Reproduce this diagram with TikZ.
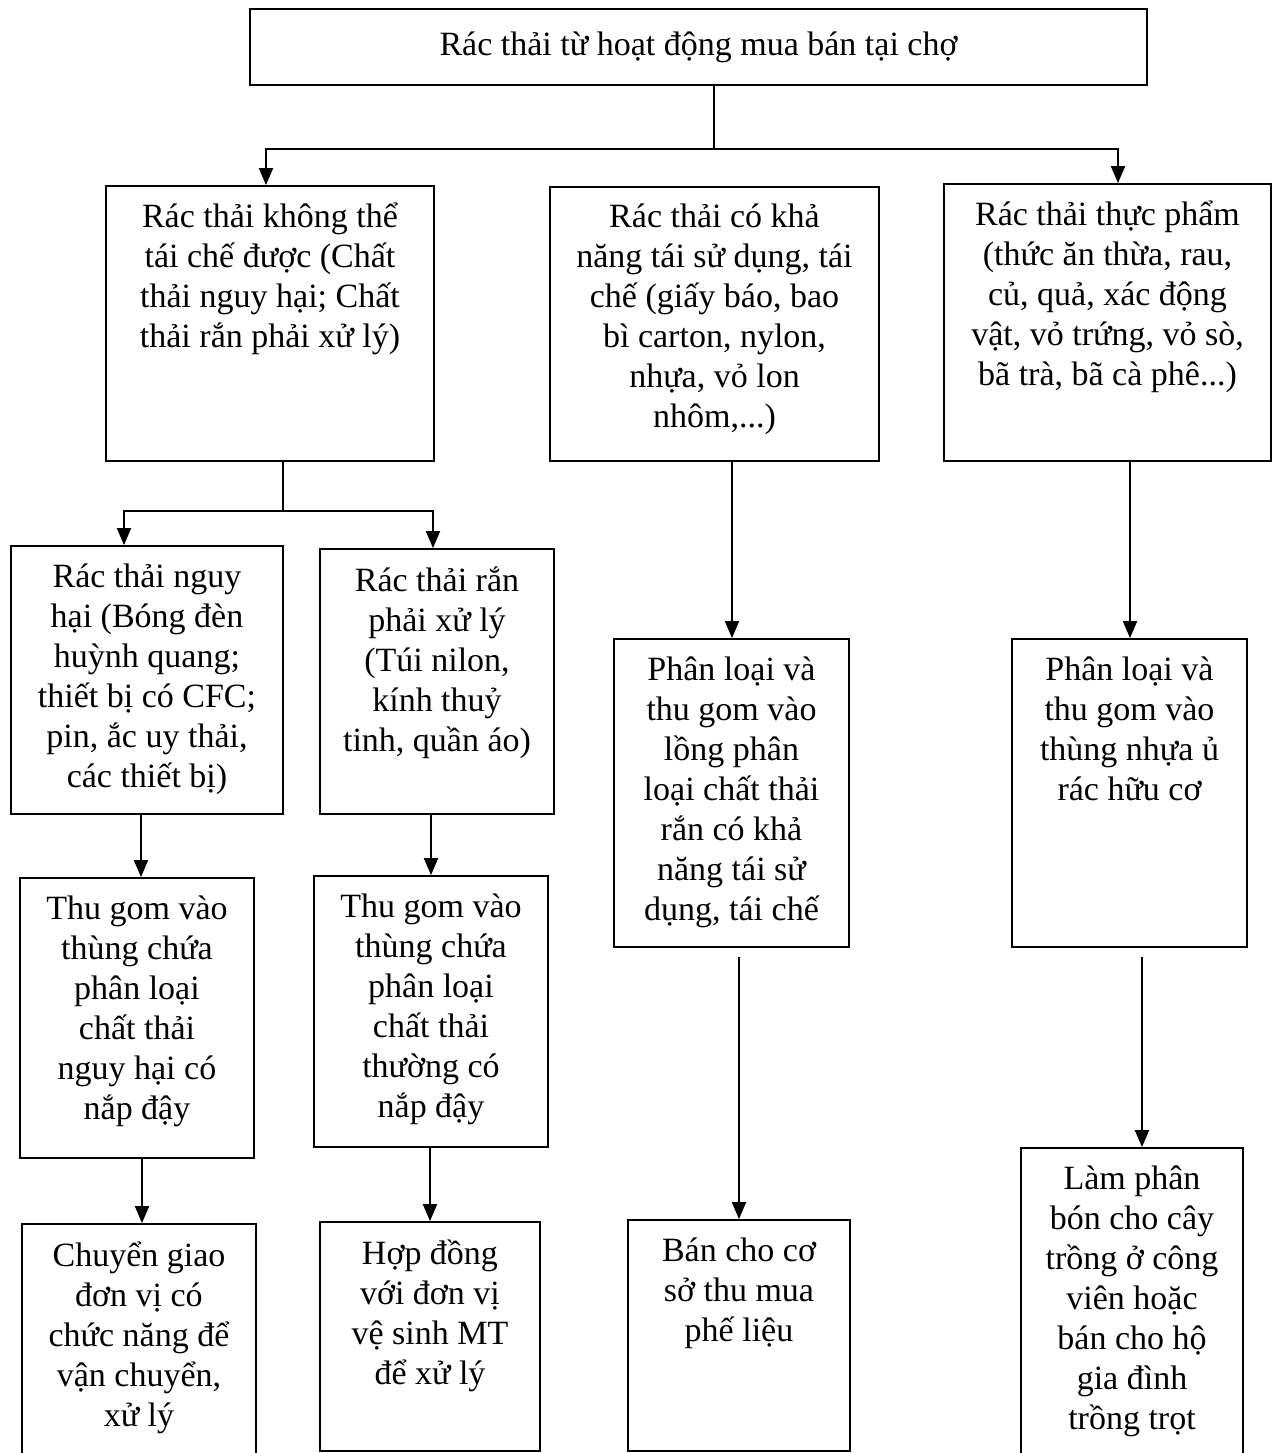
\documentclass[tikz,border=0pt]{standalone}
\usepackage{fontspec}
\setmainfont{Liberation Serif}
\usetikzlibrary{positioning,arrows.meta}
\tikzset{
  box/.style={draw, line width=1.8pt, inner sep=0pt},
  txt/.style={align=center, inner sep=0pt, execute at begin node={\rule{0pt}{33pt}}},
  conn/.style={line width=1.9pt},
}
\begin{document}
\begin{tikzpicture}[x=1pt, y=-1pt, >={Triangle[length=17pt,width=14pt]}, font=\fontsize{34}{40}\selectfont]
\useasboundingbox (0,0) rectangle (1273,1453);
% top
\node[box, minimum width=897pt, minimum height=76pt] (top) at (698.5,47) {Rác thải từ hoạt động mua bán tại chợ};
% first level
\node[box, minimum width=328pt, minimum height=275pt] (A) at (270,323.5) {};
\node[box, minimum width=329pt, minimum height=274pt] (B) at (714.5,324) {};
\node[box, minimum width=327pt, minimum height=277pt] (C) at (1107.5,322.5) {};
\node[txt, below=18pt of A.north] (At) {Rác thải không thể\\tái chế được (Chất\\thải nguy hại; Chất\\thải rắn phải xử lý)};
\node[txt, below=18pt of B.north] (Bt) {Rác thải có khả\\năng tái sử dụng, tái\\chế (giấy báo, bao\\bì carton, nylon,\\nhựa, vỏ lon\\nhôm,...)};
\node[txt, below=18pt of C.north] (Ct) {Rác thải thực phẩm\\(thức ăn thừa, rau,\\củ, quả, xác động\\vật, vỏ trứng, vỏ sò,\\bã trà, bã cà phê...)};
% left branch
\node[box, minimum width=272pt, minimum height=268pt] (A1) at (147,680) {};
\node[box, minimum width=234pt, minimum height=265pt] (A2) at (437,681.5) {};
\node[txt, below=19pt of A1.north] (A1t) {Rác thải nguy\\hại (Bóng đèn\\huỳnh quang;\\thiết bị có CFC;\\pin, ắc uy thải,\\các thiết bị)};
\node[txt, below=19pt of A2.north] (A2t) {Rác thải rắn\\phải xử lý\\(Túi nilon,\\kính thuỷ\\tinh, quần áo)};
\node[box, minimum width=234pt, minimum height=280pt] (A1b) at (137,1018) {};
\node[box, minimum width=234pt, minimum height=271pt] (A2b) at (431,1011.5) {};
\node[txt, below=19pt of A1b.north] (A1bt) {Thu gom vào\\thùng chứa\\phân loại\\chất thải\\nguy hại có\\nắp đậy};
\node[txt, below=19pt of A2b.north] (A2bt) {Thu gom vào\\thùng chứa\\phân loại\\chất thải\\thường có\\nắp đậy};
\node[box, minimum width=234pt, minimum height=246pt] (A1c) at (139,1347) {};
\node[box, minimum width=220pt, minimum height=229pt] (A2c) at (430,1336.5) {};
\node[txt, below=19pt of A1c.north] (A1ct) {Chuyển giao\\đơn vị có\\chức năng để\\vận chuyển,\\xử lý};
\node[txt, below=19pt of A2c.north] (A2ct) {Hợp đồng\\với đơn vị\\vệ sinh MT\\để xử lý};
% middle and right branches
\node[box, minimum width=235pt, minimum height=308pt] (B1) at (731.5,793) {};
\node[box, minimum width=235pt, minimum height=308pt] (C1) at (1129.5,793) {};
\node[txt, below=19pt of B1.north] (B1t) {Phân loại và\\thu gom vào\\lồng phân\\loại chất thải\\rắn có khả\\năng tái sử\\dụng, tái chế};
\node[txt, below=19pt of C1.north] (C1t) {Phân loại và\\thu gom vào\\thùng nhựa ủ\\rác hữu cơ};
\node[box, minimum width=222pt, minimum height=231pt] (B2) at (739,1335.5) {};
\node[box, minimum width=222pt, minimum height=322pt] (C2) at (1132,1309) {};
\node[txt, below=19pt of B2.north] (B2t) {Bán cho cơ\\sở thu mua\\phế liệu};
\node[txt, below=19pt of C2.north] (C2t) {Làm phân\\bón cho cây\\trồng ở công\\viên hoặc\\bán cho hộ\\gia đình\\trồng trọt};
% connectors
\coordinate (j1) at (714,149);
\coordinate (j2) at (283,511);
\draw[conn] (top.south -| j1) -- (j1);
\draw[conn,->] (j1) -| ([xshift=-4pt]A.north);
\draw[conn,->] (j1) -| ([xshift=10.5pt]C.north);
\draw[conn] (A.south -| j2) -- (j2);
\draw[conn,->] (j2) -| ([xshift=-23pt]A1.north);
\draw[conn,->] (j2) -| ([xshift=-4pt]A2.north);
\draw[conn,->] ([xshift=4pt]A1b.north |- A1.south) -- ([xshift=4pt]A1b.north);
\draw[conn,->] ([xshift=3pt]A1c.north |- A1b.south) -- ([xshift=3pt]A1c.north);
\draw[conn,->] (A2b.north |- A2.south) -- (A2b.north);
\draw[conn,->] (A2c.north |- A2b.south) -- (A2c.north);
\draw[conn,->] ([xshift=0.5pt]B1.north |- B.south) -- ([xshift=0.5pt]B1.north);
\draw[conn,->] ([yshift=-9pt]B2.north |- B1.south) -- (B2.north);
\draw[conn,->] ([xshift=0.5pt]C1.north |- C.south) -- ([xshift=0.5pt]C1.north);
\draw[conn,->] ([xshift=10pt,yshift=-9pt]C2.north |- C1.south) -- ([xshift=10pt]C2.north);
\end{tikzpicture}
\end{document}
